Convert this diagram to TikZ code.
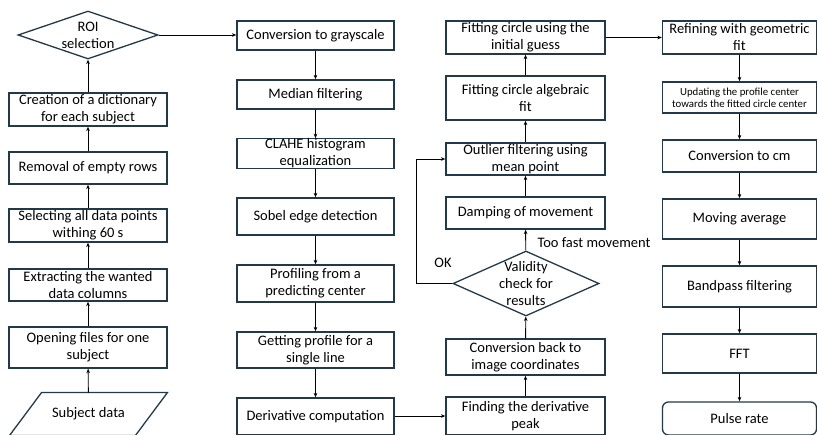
\documentclass[tikz,border=0pt]{standalone}
\usepackage{fontspec}
\setmainfont{Carlito}
\usetikzlibrary{shapes.geometric,arrows.meta}
\definecolor{boxline}{HTML}{22394A}
\begin{document}
\begin{tikzpicture}[x=1pt,y=-1pt,>={Stealth[length=4.5pt,width=3.6pt]},line width=0.9pt,
  font=\fontsize{14.5}{17}\selectfont,
  box/.style={draw=boxline,line width=1.3pt,inner sep=0pt,align=center,minimum width=#1},
  dec/.style={draw=boxline,line width=1.3pt,diamond,inner sep=0pt},
  small/.style={font=\fontsize{10.8}{11.6}\selectfont}]
  \useasboundingbox (0,0) rectangle (817,434);
  \clip (0,0) rectangle (817,434);

  % column 1: data preparation, bottom to top
  \node[inner sep=0pt,minimum width=125,minimum height=42] (data) at (88.5,414) {Subject data};
  \draw[boxline,line width=1.3pt] ([xshift=16pt]data.north west) -- ([xshift=16pt]data.north east)
    -- ([xshift=-16pt]data.south east) -- ([xshift=-16pt]data.south west) -- cycle;
  \node[box=158,minimum height=41] (open) at (88,347.5) {Opening files for one\\subject};
  \node[box=158,minimum height=32] (extr) at (88,285) {Extracting the wanted\\data columns};
  \node[box=158,minimum height=33] (sel) at (88,225.5) {Selecting all data points\\withing 60 s};
  \node[box=158,minimum height=32] (empty) at (88,168) {Removal of empty rows};
  \node[box=158,minimum height=33] (dict) at (88,109.5) {Creation of a dictionary\\for each subject};
  \node[dec,minimum width=140,minimum height=48] (roi) at (88,35) {};
  \node[align=center] (roit) at (roi) {ROI\\selection};

  % column 2
  \node[box=157,minimum height=29] (gray) at (315.5,35.5) {Conversion to grayscale};
  \node[box=157,minimum height=29] (median) at (315.5,94.5) {Median filtering};
  \node[box=157,minimum height=29] (clahe) at (315.5,153.5) {CLAHE histogram\\equalization};
  \node[box=157,minimum height=37] (sobel) at (315.5,216.5) {Sobel edge detection};
  \node[box=157,minimum height=37] (prof) at (315.5,283.5) {Profiling from a\\predicting center};
  \node[box=157,minimum height=36] (getp) at (315.5,350) {Getting profile for a\\single line};
  \node[box=157,minimum height=37] (deriv) at (315.5,416.5) {Derivative computation};

  % column 3, bottom to top
  \node[box=159,minimum height=38] (peak) at (525.5,416) {Finding the derivative\\peak};
  \node[box=159,minimum height=36] (back) at (525.5,357) {Conversion back to\\image coordinates};
  \node[dec,minimum width=146,minimum height=65] (valid) at (526,283.5) {};
  \node[align=center] (validt) at (valid) {Validity\\check for\\results};
  \node[box=159,minimum height=32] (damp) at (525.5,213) {Damping of movement};
  \node[box=159,minimum height=32] (outl) at (525.5,159) {Outlier filtering using\\mean point};
  \node[box=159,minimum height=44] (alg) at (525.5,98) {Fitting circle algebraic\\fit};
  \node[box=159,minimum height=33] (init) at (525.5,37.5) {Fitting circle using the\\initial guess};

  % column 4
  \node[box=154,minimum height=33] (refine) at (739.5,37.5) {Refining with geometric\\fit};
  \node[box=154,minimum height=31,small] (upd) at (739.5,97.5) {Updating the profile center\\towards the fitted circle center};
  \node[box=154,minimum height=32] (cm) at (739.5,156) {Conversion to cm};
  \node[box=154,minimum height=40] (mov) at (739.5,219) {Moving average};
  \node[box=154,minimum height=41] (band) at (739.5,286.5) {Bandpass filtering};
  \node[box=154,minimum height=39] (fft) at (739.5,353.5) {FFT};
  \node[box=154,minimum height=33,rounded corners=6pt] (pulse) at (739.5,418.5) {Pulse rate};

  % connectors
  \draw[->] (data) -- (open);
  \draw[->] (open) -- (extr);
  \draw[->] (extr) -- (sel);
  \draw[->] (sel) -- (empty);
  \draw[->] (empty) -- (dict);
  \draw[->] (dict) -- (roi);
  \draw[->] (roi.east) -- (gray.west |- roi.east);

  \draw[->] (gray) -- (median);
  \draw[->] (median) -- (clahe);
  \draw[->] (clahe) -- (sobel);
  \draw[->] (sobel) -- (prof);
  \draw[->] (prof) -- (getp);
  \draw[->] (getp) -- (deriv);
  \draw[->] (deriv.east |- peak.west) -- (peak.west);

  \draw[->] (peak) -- (back);
  \draw[->] (back) -- (valid);
  \draw[->] (valid) -- (damp);
  \node (fast) at (594,243) {Too fast movement};
  \draw[->] (valid.west) -- ++(-36,0) |- (outl.west);
  \node (ok) at (443,263) {OK};
  \draw[->] (damp) -- (outl);
  \draw[->] (outl) -- (alg);
  \draw[->] (alg) -- (init);
  \draw[->] (init) -- (refine);

  \draw[->] (refine) -- (upd);
  \draw[->] (upd) -- (cm);
  \draw[->] (cm) -- (mov);
  \draw[->] (mov) -- (band);
  \draw[->] (band) -- (fft);
  \draw[->] (fft) -- (pulse);
\end{tikzpicture}
\end{document}
